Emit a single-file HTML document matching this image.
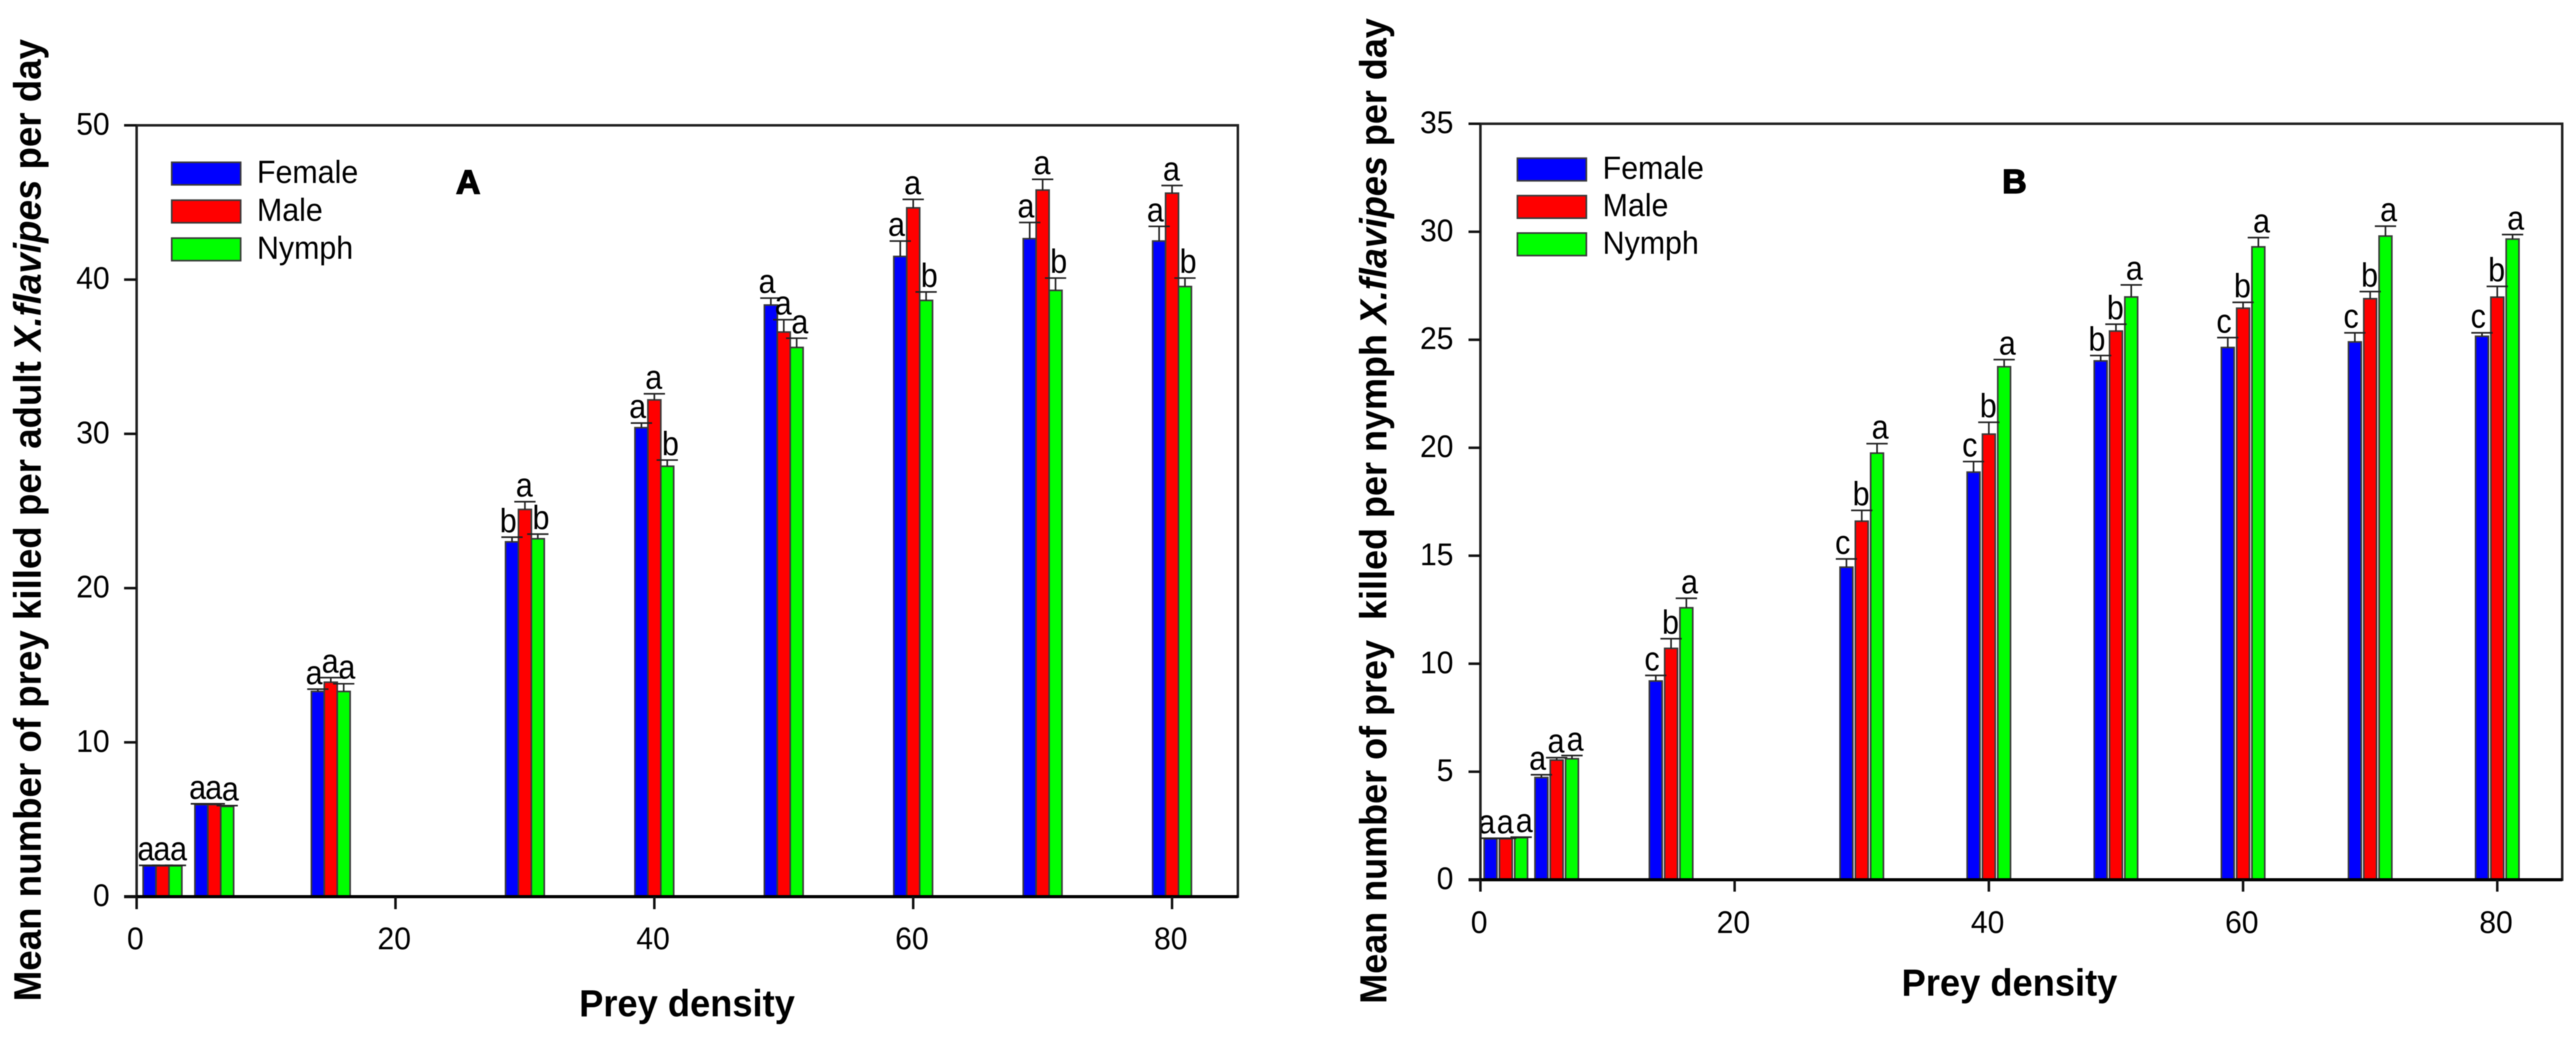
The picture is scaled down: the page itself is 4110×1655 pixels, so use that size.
<!DOCTYPE html>
<html lang="en">
<head>
<meta charset="utf-8">
<title>Prey killed per day by X. flavipes</title>
<style>
html,body{margin:0;padding:0;background:#fff;width:4110px;height:1655px;overflow:hidden}
svg{display:block;filter:blur(0.7px)}
text{font-family:"Liberation Sans",Arial,sans-serif;fill:#000}
.tick{font-size:50px}
.sig{font-size:54px}
.leg{font-size:51px}
.title{font-weight:bold}
</style>
</head>
<body>
<svg id="figure" xmlns="http://www.w3.org/2000/svg" width="4110" height="1655" viewBox="0 0 4110 1655"></svg>
<script>
// ---- shared data ----
const categories = [2, 6, 15, 30, 40, 50, 60, 70, 80];
const seriesNames = ["Female", "Male", "Nymph"];
const seriesColors = ["#0000ff", "#ff0000", "#00ff00"];
const xTickLabels = [0, 20, 40, 60, 80];

// ---- panel A data ----
const femaleA = [2.0, 5.97, 13.3, 23.0, 30.4, 38.35, 41.5, 42.65, 42.5];
const maleA = [2.0, 5.97, 13.9, 25.1, 32.2, 36.6, 44.65, 45.8, 45.6];
const nymphA = [2.0, 5.85, 13.3, 23.2, 27.9, 35.6, 38.65, 39.3, 39.55];
const femaleErrA = [0.03, 0.05, 0.15, 0.3, 0.3, 0.45, 1.0, 1.05, 0.95];
const maleErrA = [0.03, 0.05, 0.3, 0.5, 0.4, 0.8, 0.55, 0.7, 0.5];
const nymphErrA = [0.03, 0.05, 0.5, 0.3, 0.4, 0.6, 0.55, 0.8, 0.55];
const femaleLettersA = ["a", "a", "a", "b", "a", "a", "a", "a", "a"];
const maleLettersA = ["a", "a", "a", "a", "a", "a", "a", "a", "a"];
const nymphLettersA = ["a", "a", "a", "b", "b", "a", "b", "b", "b"];
const yTickLabelsA = [0, 10, 20, 30, 40, 50];

// ---- panel B data ----
const femaleB = [1.9, 4.73, 9.2, 14.47, 18.87, 24.02, 24.64, 24.9, 25.16];
const maleB = [1.9, 5.54, 10.71, 16.6, 20.63, 25.4, 26.46, 26.9, 26.97];
const nymphB = [1.95, 5.6, 12.59, 19.75, 23.75, 26.98, 29.3, 29.8, 29.66];
const femaleErrB = [0.02, 0.13, 0.26, 0.38, 0.49, 0.25, 0.46, 0.42, 0.16];
const maleErrB = [0.02, 0.11, 0.45, 0.5, 0.55, 0.32, 0.27, 0.33, 0.5];
const nymphErrB = [0.02, 0.15, 0.44, 0.44, 0.33, 0.56, 0.43, 0.46, 0.21];
const femaleLettersB = ["a", "a", "c", "c", "c", "b", "c", "c", "c"];
const maleLettersB = ["a", "a", "b", "b", "b", "b", "b", "b", "b"];
const nymphLettersB = ["a", "a", "a", "a", "a", "a", "a", "a", "a"];
const yTickLabelsB = [0, 5, 10, 15, 20, 25, 30, 35];

const SVG_NS = "http://www.w3.org/2000/svg";
const root = document.getElementById("figure");

function make(parent, tag, attrs, text) {
  const el = document.createElementNS(SVG_NS, tag);
  for (const k in attrs) el.setAttribute(k, attrs[k]);
  if (text !== undefined) el.textContent = text;
  parent.appendChild(el);
  return el;
}

function drawPanel(cfg) {
  const xAt = v => cfg.left + v * cfg.xScale;
  const yAt = v => cfg.bottom - (v - 0) * (cfg.bottom - cfg.top) / cfg.yMax;
  const panel = make(root, "g", {});
  
  

  const barsGroup = make(panel, "g", {});
  
  
  const errGroup = make(panel, "g", {});
  
  
  const sigGroup = make(panel, "g", {});
  
  

  const labelDx = [-6, -1, 5];
  cfg.values.forEach((vals, s) => {
    vals.forEach((v, i) => {
      const cx = xAt(categories[i]) + (s - 1) * cfg.pitch;
      const top = yAt(v);
      const bar = make(barsGroup, "rect", {
        x: cx - cfg.barWidth / 2, y: top, width: cfg.barWidth, height: cfg.bottom - top,
        fill: seriesColors[s], stroke: "#3a3a3a", "stroke-width": 2.6
      });
      
      

      const capY = yAt(v + cfg.errors[s][i]);
      const stem = make(errGroup, "line", { x1: cx, x2: cx, y1: top, y2: capY, stroke: "#222", "stroke-width": 2.6 });
      
      
      const cap = make(errGroup, "line", { x1: cx - 17, x2: cx + 17, y1: capY, y2: capY, stroke: "#222", "stroke-width": 2.6 });
      
      

      const letter = make(sigGroup, "text", {
        transform: "translate(" + (cx + labelDx[s]) + "," + (capY - cfg.letterLift) + ") scale(0.9,1)",
        "text-anchor": "middle", "class": "sig"
      }, cfg.letters[s][i]);
      
      
    });
  });

  // frame
  const frame = make(panel, "rect", {
    x: cfg.left, y: cfg.top, width: cfg.right - cfg.left, height: cfg.bottom - cfg.top,
    fill: "none", stroke: "#222", "stroke-width": 4
  });
  
  
  const base = make(panel, "line", {
    x1: cfg.left - cfg.tickLen, x2: cfg.right, y1: cfg.bottom, y2: cfg.bottom, stroke: "#000", "stroke-width": 5
  });
  
  

  // y ticks
  cfg.yTicks.forEach(t => {
    const y = yAt(t);
    const tick = make(panel, "line", { x1: cfg.left - cfg.tickLen, x2: cfg.left, y1: y, y2: y, stroke: "#111", "stroke-width": t === 0 ? 5 : 4 });
    
    
    const label = make(panel, "text", {
      transform: "translate(" + cfg.yLabelRight + "," + (y + 15) + ") scale(0.96,1)",
      "text-anchor": "end", "class": "tick"
    }, String(t));
    
    
  });

  // x ticks
  xTickLabels.forEach(t => {
    const x = xAt(t);
    const tick = make(panel, "line", { x1: x, x2: x, y1: cfg.bottom, y2: cfg.bottom + cfg.tickLen, stroke: "#111", "stroke-width": 4 });
    
    
    const label = make(panel, "text", {
      transform: "translate(" + (x - 2) + "," + cfg.xLabelBase + ") scale(0.96,1)",
      "text-anchor": "middle", "class": "tick"
    }, String(t));
    
    
  });

  // legend
  const legend = make(panel, "g", {});
  
  
  seriesNames.forEach((n, s) => {
    const y = cfg.legendY + s * cfg.legendStep;
    const swatch = make(legend, "rect", { x: cfg.legendX, y: y, width: 110, height: 36, fill: seriesColors[s], stroke: "#3a3a3a", "stroke-width": 2.6 });
    
    
    const label = make(legend, "text", {
      transform: "translate(" + (cfg.legendX + 136) + "," + (y + 33) + ") scale(0.95,1)",
      "class": "leg"
    }, n);
    
    
  });

  // panel letter
  const tag = make(panel, "text", {
    x: cfg.tagX, y: cfg.tagY, "text-anchor": "middle", "class": "title",
    "font-size": 54, stroke: "#000", "stroke-width": 2
  }, cfg.tag);
  
  

  // x title
  const xt = make(panel, "text", {
    transform: "translate(" + cfg.xTitleX + "," + cfg.xTitleY + ") scale(0.965,1)",
    "class": "title", "font-size": 60
  }, "Prey density");
  
  

  // y title
  const yt = make(panel, "text", {
    transform: "translate(" + cfg.yTitleX + "," + cfg.yTitleY + ") rotate(-90) scale(" + cfg.yTitleStretch + ",1)",
    "class": "title", "font-size": cfg.yTitleSize, "xml:space": "preserve", style: "white-space:pre"
  });
  
  
  make(yt, "tspan", {}, cfg.yTitleParts[0]);
  make(yt, "tspan", { "font-style": "italic" }, cfg.yTitleParts[1]);
  make(yt, "tspan", {}, cfg.yTitleParts[2]);
}

drawPanel({
  name: "panel-a", tag: "A", left: 218, right: 1975, top: 200, bottom: 1431,
  xScale: 20.65, yMax: 50, barWidth: 20.6, pitch: 20.6, tickLen: 20, letterLift: 8,
  values: [femaleA, maleA, nymphA],
  errors: [femaleErrA, maleErrA, nymphErrA],
  letters: [femaleLettersA, maleLettersA, nymphLettersA],
  yTicks: yTickLabelsA, yLabelRight: 175, xLabelBase: 1515,
  legendX: 274, legendY: 259, legendStep: 60.5, tagX: 747, tagY: 309,
  xTitleX: 924, xTitleY: 1622, yTitleX: 65, yTitleY: 1598, yTitleSize: 61, yTitleStretch: 0.96,
  yTitleParts: ["Mean number of prey killed per adult ", "X.flavipes", " per day"]
});

drawPanel({
  name: "panel-b", tag: "B", left: 2362, right: 4088, top: 197.5, bottom: 1404,
  xScale: 20.28, yMax: 35, barWidth: 20.4, pitch: 24.4, tickLen: 19, letterLift: 8,
  values: [femaleB, maleB, nymphB],
  errors: [femaleErrB, maleErrB, nymphErrB],
  letters: [femaleLettersB, maleLettersB, nymphLettersB],
  yTicks: yTickLabelsB, yLabelRight: 2319, xLabelBase: 1489,
  legendX: 2421, legendY: 252.5, legendStep: 59.7, tagX: 3214, tagY: 308,
  xTitleX: 3034, xTitleY: 1589, yTitleX: 2212, yTitleY: 1602, yTitleSize: 60, yTitleStretch: 0.957,
  yTitleParts: ["Mean number of prey  killed per nymph ", "X.flavipes", " per day"]
});
</script>
</body>
</html>
